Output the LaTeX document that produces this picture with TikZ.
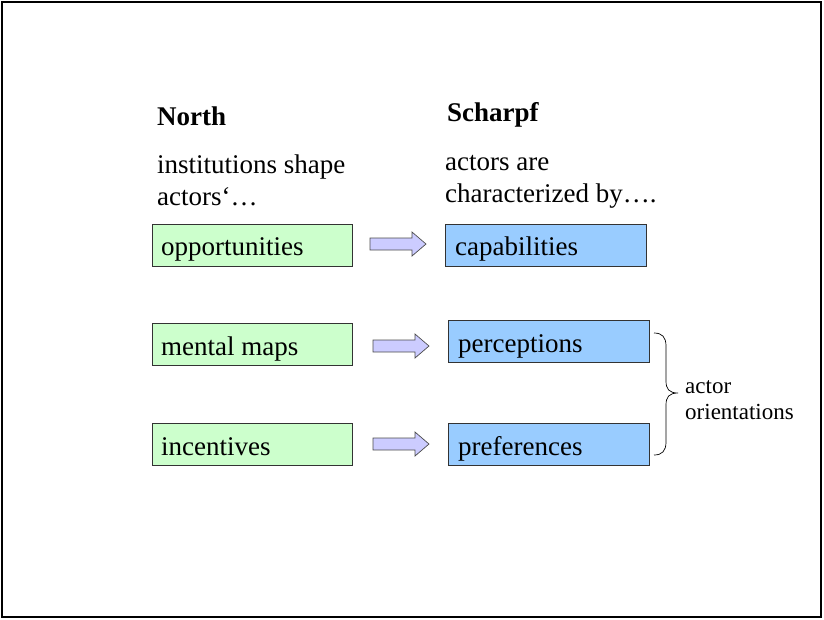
\documentclass[tikz,border=0pt]{standalone}
\usepackage{fontspec}
\setmainfont{Liberation Serif}
\begin{document}
\begin{tikzpicture}[x=1pt,y=-1pt,
  big/.style={font=\fontsize{27}{32}\selectfont, inner sep=0pt, anchor=base west},
  greenbox/.style={draw=black!80, line width=0.8pt},
  bluebox/.style={draw=black!80, line width=0.8pt},
  fatarrow/.style={draw=black!70, line width=0.7pt},
  small/.style={font=\fontsize{23}{27}\selectfont, inner sep=0pt, anchor=base west, align=left}]
\definecolor{gfill}{HTML}{CCFFCC}
\definecolor{bfill}{HTML}{99CCFF}
\definecolor{afill}{HTML}{CCCCFF}
\useasboundingbox (0,0) rectangle (824,619);
\draw[line width=2pt] (2,2) rectangle (821,617);
% headings
\node[big, font=\fontsize{27}{32}\selectfont\bfseries] (north) at (157,125) {North};
\node[big, font=\fontsize{27}{32}\selectfont\bfseries] (scharpf) at (447,121) {Scharpf};
\node[big] (n1) at (157,173) {institutions shape};
\node[big] (n2) at (157,205) {actors‘…};
\node[big] (s1) at (445,170) {actors are};
\node[big] (s2) at (445,202) {characterized by….};
% boxes
\draw[greenbox, fill=gfill] (152,224) rectangle (352,266);
\node[big] (opp) at (161,255) {opportunities};
\draw[bluebox, fill=bfill] (445,224) rectangle (646,266);
\node[big] (cap) at (455,255) {capabilities};
\draw[greenbox, fill=gfill] (152,323) rectangle (352,365);
\node[big] (mm) at (161,355) {mental maps};
\draw[bluebox, fill=bfill] (448,320) rectangle (649,362);
\node[big] (per) at (458,352) {perceptions};
\draw[greenbox, fill=gfill] (152,423) rectangle (352,465);
\node[big] (inc) at (161,455) {incentives};
\draw[bluebox, fill=bfill] (448,423) rectangle (649,465);
\node[big] (pref) at (458,455) {preferences};
% block arrows
\foreach \x/\y in {370/244, 373/346, 373/444}{
  \draw[fatarrow, fill=afill] (\x,\y-6) -- (\x+42,\y-6) -- (\x+42,\y-12) -- (\x+56,\y) -- (\x+42,\y+12) -- (\x+42,\y+6) -- (\x,\y+6) -- cycle;
}
% brace
\draw[line width=0.7pt] (654,333) .. controls (662,333) and (666,337) .. (666,346) -- (666,381) .. controls (666,389) and (669,393) .. (678,393) .. controls (669,393) and (666,397) .. (666,405) -- (666,442) .. controls (666,451) and (662,455) .. (654,455);
\node[small] (ao1) at (685,393) {actor};
\node[small] (ao2) at (685,419) {orientations};
\end{tikzpicture}
\end{document}
